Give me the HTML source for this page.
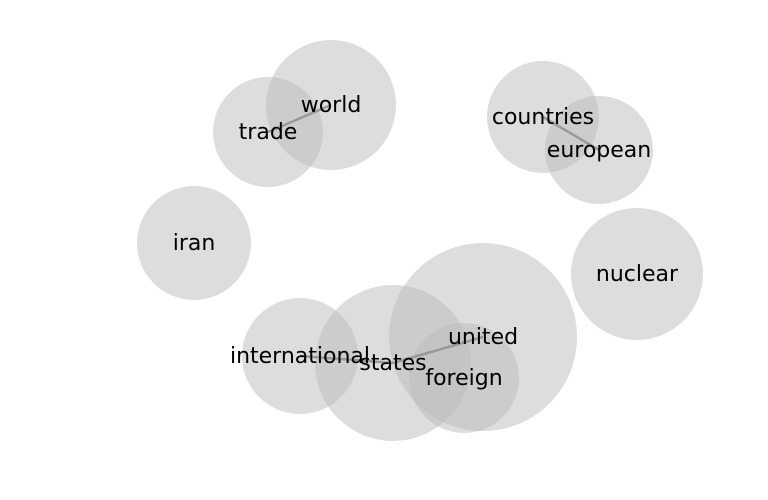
<!DOCTYPE html>
<html><head><meta charset="utf-8"><style>
html,body{margin:0;padding:0;background:#fff;}
svg{display:block;}
text{font-family:"DejaVu Sans","Liberation Sans",sans-serif;font-size:22px;fill:#000;}
</style></head><body>
<svg id="chart" width="768" height="500">
<g id="nodes"></g>
<g id="edges"></g>
<g id="labels"></g>
</svg>
<script>
const words = ["world","trade","countries","european","iran","nuclear","united","states","international","foreign"];
const xs = [331,268,543,599,194,637,483,393,300,464];
const ys = [105,132,117,150,243,274,337,363,356,378];
const sizes = [65,55,56,54,57,66,94,78,58,55];
const edgeFrom = ["trade","countries","united","states"];
const edgeTo = ["world","european","states","international"];
const NS="http://www.w3.org/2000/svg";
const eg=document.getElementById('edges'),ng=document.getElementById('nodes'),lg=document.getElementById('labels');
function idx(w){return words.indexOf(w);}
for(let i=0;i<edgeFrom.length;i++){
  const a=idx(edgeFrom[i]),b=idx(edgeTo[i]);
  const l=document.createElementNS(NS,'line');
  l.setAttribute('x1',xs[a]);l.setAttribute('y1',ys[a]);l.setAttribute('x2',xs[b]);l.setAttribute('y2',ys[b]);
  l.setAttribute('stroke','#999');l.setAttribute('stroke-width','2.5');
  
  
  eg.appendChild(l);
}
for(let i=0;i<words.length;i++){
  const c=document.createElementNS(NS,'circle');
  c.setAttribute('cx',xs[i]);c.setAttribute('cy',ys[i]);c.setAttribute('r',sizes[i]);
  c.setAttribute('fill','#bbbbbb');c.setAttribute('fill-opacity','0.5');
  
  
  ng.appendChild(c);
  const t=document.createElementNS(NS,'text');
  t.setAttribute('x',xs[i]);t.setAttribute('y',ys[i]+7);t.setAttribute('text-anchor','middle');
  t.textContent=words[i];
  
  
  lg.appendChild(t);
}
</script>
</body></html>
